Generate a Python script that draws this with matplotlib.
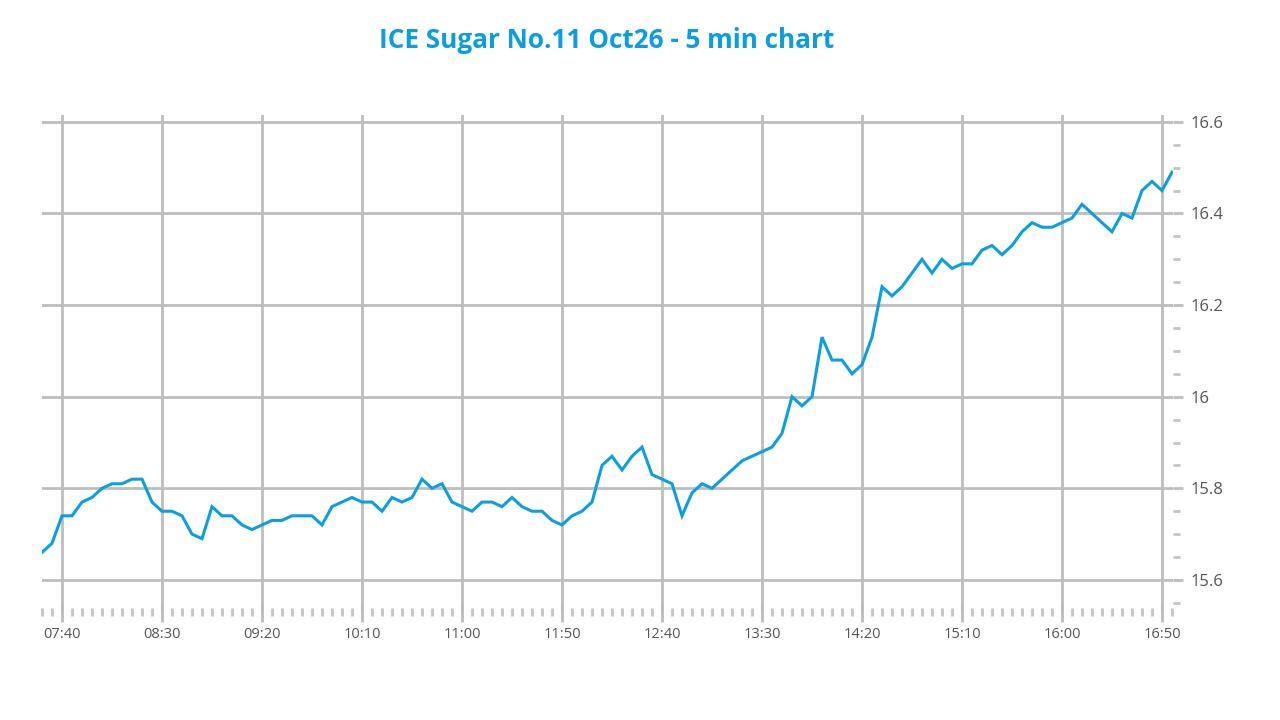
import matplotlib.pyplot as plt
import matplotlib.ticker as mticker
import numpy as np

# precios cada 5 minutos desde las 07:30 hasta las 16:55
precios = [
    15.66, 15.68, 15.74, 15.74, 15.77, 15.78, 15.80, 15.81, 15.81, 15.82,
    15.82, 15.77, 15.75, 15.75, 15.74, 15.70, 15.69, 15.76, 15.74, 15.74,
    15.72, 15.71, 15.72, 15.73, 15.73, 15.74, 15.74, 15.74, 15.72, 15.76,
    15.77, 15.78, 15.77, 15.77, 15.75, 15.78, 15.77, 15.78, 15.82, 15.80,
    15.81, 15.77, 15.76, 15.75, 15.77, 15.77, 15.76, 15.78, 15.76, 15.75,
    15.75, 15.73, 15.72, 15.74, 15.75, 15.77, 15.85, 15.87, 15.84, 15.87,
    15.89, 15.83, 15.82, 15.81, 15.74, 15.79, 15.81, 15.80, 15.82, 15.84,
    15.86, 15.87, 15.88, 15.89, 15.92, 16.00, 15.98, 16.00, 16.13, 16.08,
    16.08, 16.05, 16.07, 16.13, 16.24, 16.22, 16.24, 16.27, 16.30, 16.27,
    16.30, 16.28, 16.29, 16.29, 16.32, 16.33, 16.31, 16.33, 16.36, 16.38,
    16.37, 16.37, 16.38, 16.39, 16.42, 16.40, 16.38, 16.36, 16.40, 16.39,
    16.45, 16.47, 16.45, 16.49,
]
inicio = 7 * 60 + 30  # 07:30 en minutos
minutos = [inicio + 5 * i for i in range(len(precios))]

etiquetas_x = ["07:40", "08:30", "09:20", "10:10", "11:00", "11:50",
               "12:40", "13:30", "14:20", "15:10", "16:00", "16:50"]
pos_x = [int(e[:2]) * 60 + int(e[3:]) for e in etiquetas_x]
valores_y = [15.6, 15.8, 16.0, 16.2, 16.4, 16.6]
etiquetas_y = ["15.6", "15.8", "16", "16.2", "16.4", "16.6"]

azul = "#0c9fe0"
gris = "#bdbdbd"

plt.rcParams["font.family"] = ["Open Sans", "DejaVu Sans"]

fig = plt.figure(figsize=(12.8, 7.2), dpi=100)
ax = fig.add_axes([42 / 1280, 1 - 612 / 720, (1173 - 42) / 1280, (612 - 115) / 720])

ax.plot(minutos, precios, color=azul, linewidth=2.2, solid_joinstyle="miter")

ax.set_xlim(inicio, inicio + 565.5)
ax.set_ylim(15.53, 16.615)

ax.set_xticks(pos_x)
ax.set_xticklabels(etiquetas_x)
ax.xaxis.set_minor_locator(mticker.MultipleLocator(5))
ax.set_yticks(valores_y)
ax.set_yticklabels(etiquetas_y)
ax.yaxis.set_minor_locator(mticker.MultipleLocator(0.05))
ax.yaxis.tick_right()

ax.grid(True, which="major", color=gris, linewidth=2.0)
for lado in ax.spines.values():
    lado.set_visible(False)

ax.tick_params(axis="x", which="major", direction="inout", length=14, width=2,
               color=gris, labelsize=10.5, labelcolor="#555555", pad=4)
ax.tick_params(axis="x", which="minor", direction="inout", length=6, width=2,
               color="#c4c4c4")
ax.tick_params(axis="y", which="major", direction="out", length=7.5, width=2,
               color=gris, labelsize=12, labelcolor="#555555", pad=5)
ax.tick_params(axis="y", which="minor", direction="out", length=5, width=2,
               color="#c4c4c4")

fig.text(0.474, 0.944, "ICE Sugar No.11 Oct26 - 5 min chart", ha="center",
         va="center", fontsize=18.8, fontweight="bold", color="#0a9ee0")

fig.savefig("out.png", dpi=100)
